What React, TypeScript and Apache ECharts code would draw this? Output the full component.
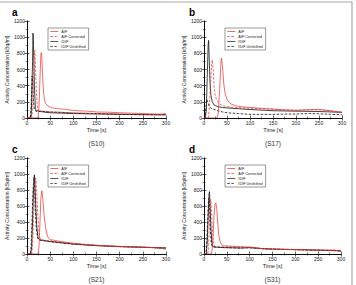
import React, { useEffect, useRef } from "react";
import * as echarts from "echarts";

type Pt = [number, number];

const SERIES_NAMES = ["AIF", "AIF Corrected", "IDIF", "IDIF Unshifted"];
const PANEL_LETTERS = ["a", "b", "c", "d"];
const PANEL_SUBJECTS = ["(S10)", "(S17)", "(S21)", "(S31)"];

const TIME_MAX = 300;
const TIME_STEP = 50;
const CONC_MAX = 1200;
const CONC_STEP = 200;

// Subject S10 — [time s, activity kBq/ml]
const S10_AIF: Pt[] = [
  [0, 0], [20, 0], [24, 5], [26, 150], [28, 500], [30, 790], [31, 810], [32, 760], [34, 480],
  [36, 300], [38, 220], [40, 180], [45, 150], [50, 135], [55, 125], [60, 120], [70, 112],
  [80, 110], [90, 100], [100, 95], [110, 90], [130, 85], [150, 75], [175, 72], [200, 65],
  [225, 60], [250, 55], [275, 50], [290, 48], [300, 55],
];
const S10_AIF_CORR: Pt[] = [
  [0, 0], [10, 0], [12, 100], [14, 450], [16, 800], [17, 840], [18, 700], [20, 350], [22, 150],
  [24, 90], [27, 80], [30, 85], [40, 80], [50, 75], [70, 70], [100, 65], [150, 55], [200, 50],
  [250, 45], [290, 40], [300, 40],
];
const S10_IDIF: Pt[] = [
  [0, 0], [6, 0], [8, 30], [9, 20], [10, 200], [12, 700], [13, 1050], [14, 900], [16, 400],
  [18, 120], [20, 90], [25, 85], [30, 80], [40, 70], [50, 65], [75, 60], [100, 55], [150, 50],
  [200, 45], [250, 42], [280, 40], [300, 40],
];
const S10_IDIF_UNSH: Pt[] = [
  [0, 0], [7, 0], [9, 150], [11, 520], [12, 480], [14, 200], [16, 100], [20, 80], [30, 85],
  [50, 75], [75, 70], [100, 60], [150, 55], [200, 45], [250, 40], [300, 42],
];

// Subject S17
const S17_AIF: Pt[] = [
  [0, 0], [28, 0], [31, 60], [34, 350], [37, 700], [38, 740], [40, 650], [43, 420], [46, 300],
  [50, 230], [55, 190], [60, 170], [70, 150], [80, 140], [100, 130], [125, 120], [150, 110],
  [175, 100], [200, 95], [220, 100], [240, 105], [260, 100], [280, 85], [300, 70],
];
const S17_AIF_CORR: Pt[] = [
  [0, 0], [9, 0], [11, 80], [14, 400], [17, 700], [18, 720], [20, 600], [22, 380], [25, 260],
  [30, 200], [35, 170], [40, 155], [50, 140], [70, 130], [100, 120], [125, 115], [150, 110],
  [175, 100], [200, 95], [225, 100], [250, 105], [275, 90], [300, 70],
];
const S17_IDIF: Pt[] = [
  [0, 0], [3, 0], [5, 100], [7, 500], [9, 900], [10, 960], [11, 800], [13, 450], [15, 280],
  [18, 200], [22, 160], [30, 140], [40, 130], [50, 125], [75, 115], [100, 105], [150, 90],
  [200, 85], [250, 80], [300, 70],
];
const S17_IDIF_UNSH: Pt[] = [
  [0, 0], [2, 0], [4, 120], [6, 230], [8, 200], [11, 150], [15, 120], [20, 110], [30, 90],
  [40, 75], [50, 65], [75, 55], [100, 45], [150, 45], [200, 50], [230, 55], [250, 52],
  [275, 45], [300, 40],
];

// Subject S21
const S21_AIF: Pt[] = [
  [0, 0], [24, 0], [26, 100], [28, 400], [30, 700], [32, 790], [34, 700], [37, 480], [40, 330],
  [43, 250], [46, 200], [50, 180], [55, 175], [60, 170], [70, 160], [80, 150], [100, 135],
  [125, 120], [150, 110], [175, 100], [200, 95], [225, 90], [250, 85], [275, 80], [300, 60],
];
const S21_AIF_CORR: Pt[] = [
  [0, 0], [10, 0], [12, 100], [14, 400], [16, 750], [18, 930], [19, 950], [20, 880], [22, 650],
  [24, 420], [26, 280], [28, 200], [30, 180], [40, 170], [50, 165], [70, 150], [100, 130],
  [150, 108], [200, 95], [250, 85], [300, 70],
];
const S21_IDIF: Pt[] = [
  [0, 0], [8, 0], [10, 80], [12, 400], [14, 800], [16, 990], [17, 900], [19, 600], [21, 350],
  [24, 200], [27, 180], [30, 175], [40, 165], [50, 155], [75, 140], [100, 125], [150, 105],
  [200, 92], [250, 85], [300, 75],
];
const S21_IDIF_UNSH: Pt[] = [
  [0, 0], [7, 0], [9, 100], [11, 450], [13, 800], [15, 960], [16, 880], [18, 550], [20, 320],
  [23, 200], [26, 175], [30, 170], [50, 155], [100, 122], [150, 105], [200, 92], [250, 83],
  [300, 75],
];

// Subject S31
const S31_AIF: Pt[] = [
  [0, 0], [16, 0], [18, 60], [20, 250], [22, 480], [24, 620], [26, 640], [28, 560], [30, 400],
  [32, 250], [35, 160], [38, 120], [42, 105], [50, 100], [60, 98], [75, 92], [100, 88],
  [115, 80], [130, 65], [150, 60], [175, 58], [200, 55], [225, 52], [250, 50], [275, 48],
  [285, 50], [300, 30],
];
const S31_AIF_CORR: Pt[] = [
  [0, 0], [8, 0], [10, 80], [12, 400], [14, 650], [15, 680], [16, 600], [18, 350], [20, 180],
  [22, 110], [25, 90], [30, 88], [40, 90], [60, 88], [80, 85], [100, 80], [130, 65], [150, 60],
  [200, 55], [250, 50], [300, 45],
];
const S31_IDIF: Pt[] = [
  [0, 0], [5, 0], [7, 150], [9, 450], [11, 750], [12, 780], [13, 650], [15, 350], [17, 150],
  [19, 95], [22, 88], [30, 85], [40, 80], [60, 78], [80, 75], [100, 80], [120, 70], [150, 62],
  [200, 55], [250, 48], [300, 40],
];
const S31_IDIF_UNSH: Pt[] = [
  [0, 0], [4, 0], [6, 120], [8, 400], [10, 680], [11, 700], [12, 600], [14, 300], [16, 130],
  [18, 95], [22, 88], [30, 85], [50, 80], [75, 75], [100, 78], [125, 68], [150, 60], [200, 54],
  [250, 47], [300, 40],
];

const PANEL_DATA: Pt[][][] = [
  [S10_AIF, S10_AIF_CORR, S10_IDIF, S10_IDIF_UNSH],
  [S17_AIF, S17_AIF_CORR, S17_IDIF, S17_IDIF_UNSH],
  [S21_AIF, S21_AIF_CORR, S21_IDIF, S21_IDIF_UNSH],
  [S31_AIF, S31_AIF_CORR, S31_IDIF, S31_IDIF_UNSH],
];

// plot rectangles for the four panels
const PANEL_BOX = [
  { left: 27, top: 21, width: 139, height: 97 },
  { left: 204, top: 21, width: 138, height: 97 },
  { left: 27, top: 158, width: 139, height: 96 },
  { left: 204, top: 158, width: 137, height: 96 },
];

const RED = "#e3302f";
const BLACK = "#111111";
const LINE_STYLES = [
  { color: RED, type: "solid" as any, width: 0.7 },
  { color: RED, type: [2.5, 1.5] as any, width: 0.7 },
  { color: BLACK, type: "solid" as any, width: 0.8 },
  { color: BLACK, type: [2.5, 1.5] as any, width: 0.8 },
];

const FONT = "Liberation Sans, Arial, sans-serif";

function buildOption(): echarts.EChartsOption {
  const grid: any[] = [];
  const xAxis: any[] = [];
  const yAxis: any[] = [];
  const series: any[] = [];
  const legend: any[] = [];
  const graphic: any[] = [];

  const axisLine = { show: true, lineStyle: { color: "#000", width: 0.8 } };
  const axisTick = { show: true, inside: true, length: 2.5, lineStyle: { color: "#000", width: 0.6 } };
  const minorTick = { show: true, splitNumber: 2, length: 1.5, lineStyle: { color: "#000", width: 0.5 } };
  const labelStyle = { fontSize: 5, color: "#222", fontFamily: FONT };
  const plain = (v: number) => String(v);

  PANEL_BOX.forEach((box, i) => {
    grid.push({ ...box, containLabel: false });

    const xBase = {
      gridIndex: i,
      type: "value",
      min: 0,
      max: TIME_MAX,
      interval: TIME_STEP,
      axisLine,
      axisTick,
      minorTick,
      splitLine: { show: false },
    };
    xAxis.push({
      ...xBase,
      position: "bottom",
      axisLabel: { ...labelStyle, margin: 2, formatter: plain },
      name: "Time [s]",
      nameLocation: "middle",
      nameGap: 9,
      nameTextStyle: { fontSize: 5.5, color: "#222", fontFamily: FONT },
    });
    xAxis.push({ ...xBase, position: "top", axisLabel: { show: false } });

    const yBase = {
      gridIndex: i,
      type: "value",
      min: 0,
      max: CONC_MAX,
      interval: CONC_STEP,
      axisLine,
      axisTick,
      minorTick,
      splitLine: { show: false },
    };
    yAxis.push({
      ...yBase,
      position: "left",
      axisLabel: { ...labelStyle, margin: 2, formatter: plain },
      name: "Activity Concentration [kBq/ml]",
      nameLocation: "middle",
      nameGap: 16,
      nameTextStyle: { fontSize: 5, color: "#222", fontFamily: FONT },
    });
    yAxis.push({ ...yBase, position: "right", axisLabel: { show: false } });

    PANEL_DATA[i].forEach((pts, k) => {
      series.push({
        type: "line",
        name: SERIES_NAMES[k],
        xAxisIndex: i * 2,
        yAxisIndex: i * 2,
        data: pts,
        symbol: "none",
        lineStyle: LINE_STYLES[k],
        itemStyle: { color: LINE_STYLES[k].color },
        z: 4 - k,
      });
    });

    legend.push({
      orient: "vertical",
      left: box.left + 21,
      top: box.top + 7,
      data: SERIES_NAMES,
      itemWidth: 8,
      itemHeight: 3.2,
      itemGap: 1,
      padding: [1.5, 3, 1.5, 2],
      borderColor: "#333",
      borderWidth: 0.5,
      backgroundColor: "#fff",
      itemStyle: { opacity: 0 },
      lineStyle: { width: 0.7 },
      textStyle: { fontSize: 3.8, color: "#222", fontFamily: FONT, padding: [0, 0, 0, -2] },
      selectedMode: false,
    });

    graphic.push({
      type: "text",
      left: box.left - 15,
      top: box.top - 14,
      style: { text: PANEL_LETTERS[i], font: `bold 10px ${FONT}`, fill: "#000" },
    });
    graphic.push({
      type: "text",
      x: box.left + box.width / 2,
      y: box.top + box.height + 25,
      style: {
        text: PANEL_SUBJECTS[i],
        font: `6.5px ${FONT}`,
        fill: "#333",
        textAlign: "center",
        textVerticalAlign: "middle",
      },
    });
  });

  // outer figure frame
  graphic.push({
    type: "polyline",
    shape: { points: [[0, 2], [352, 2], [352, 290]] },
    style: { stroke: "#aaaaaa", lineWidth: 1.2, fill: "none" },
  });

  return {
    animation: false,
    backgroundColor: "#fff",
    grid,
    xAxis,
    yAxis,
    series,
    legend,
    graphic,
  } as any;
}

export default function App() {
  const ref = useRef<HTMLDivElement>(null);
  useEffect(() => {
    if (!ref.current) return;
    const chart = echarts.init(ref.current, undefined, { renderer: "svg" });
    chart.setOption(buildOption());
    return () => chart.dispose();
  }, []);
  return (
    <div
      ref={ref}
      style={{ position: "fixed", left: 0, top: 0, width: 356, height: 285 }}
    />
  );
}
